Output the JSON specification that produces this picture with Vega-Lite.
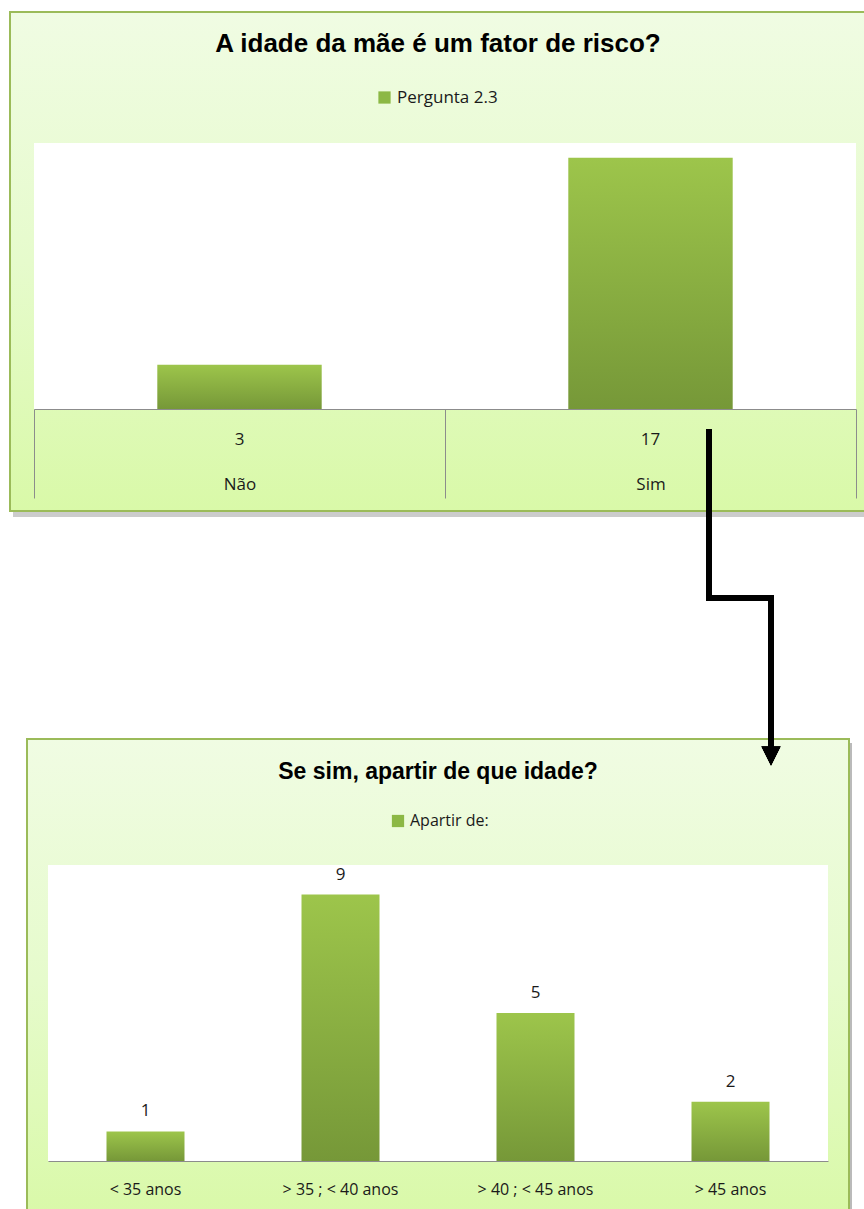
{
  "$schema": "https://vega.github.io/schema/vega-lite/v6.json",
  "padding": {"left": 9, "top": 11, "right": 0, "bottom": 0},
  "background": "white",
  "bounds": "flush",
  "center": true,
  "spacing": 228,
  "resolve": {"scale": {"color": "independent"}, "legend": {"color": "independent"}},
  "config": {
    "view": {"stroke": null},
    "axis": {"grid": false, "zindex": 1}
  },
  "vconcat": [
    {
      "width": 856,
      "height": 499,
      "title": {
        "text": "A idade da mãe é um fator de risco?",
        "anchor": "middle",
        "offset": -42,
        "dy": 25,
        "baseline": "alphabetic",
        "font": "Liberation Sans",
        "fontSize": 26,
        "fontWeight": "bold",
        "color": "#000000"
      },
      "data": {
        "values": [
          {"resposta": "Não", "n": 3, "serie": "Pergunta 2.3"},
          {"resposta": "Sim", "n": 17, "serie": "Pergunta 2.3"}
        ]
      },
      "layer": [
        {
          "mark": {"type": "rect", "fill": "#9a9a9a", "opacity": 0.3},
          "encoding": {
            "x": {"value": 3}, "x2": {"value": 860},
            "y": {"value": 4}, "y2": {"value": 505}
          }
        },
        {
          "mark": {
            "type": "rect",
            "stroke": "#9bbb59",
            "strokeWidth": 2,
            "fill": {
              "gradient": "linear", "x1": 0, "y1": 0, "x2": 0, "y2": 1,
              "stops": [
                {"offset": 0, "color": "#f0fce3"},
                {"offset": 0.5, "color": "#e6fbcc"},
                {"offset": 1, "color": "#d9f9a8"}
              ]
            }
          },
          "encoding": {
            "x": {"value": 0}, "x2": {"value": 856},
            "y": {"value": 0}, "y2": {"value": 499}
          }
        },
        {
          "mark": {"type": "rect", "fill": "#ffffff"},
          "encoding": {
            "x": {"value": 24}, "x2": {"value": 846},
            "y": {"value": 131}, "y2": {"value": 397}
          }
        },
        {
          "mark": {
            "type": "bar",
            "width": {"band": 0.4},
            "fill": {
              "gradient": "linear", "x1": 0, "y1": 0, "x2": 0, "y2": 1,
              "stops": [
                {"offset": 0, "color": "#9dc54b"},
                {"offset": 1, "color": "#769838"}
              ]
            }
          },
          "encoding": {
            "x": {
              "field": "resposta", "type": "nominal", "sort": ["Não", "Sim"],
              "scale": {"range": [24, 846], "paddingInner": 0, "paddingOuter": 0},
              "axis": {
                "orient": "bottom",
                "offset": -102,
                "title": null,
                "labelAngle": 0,
                "tickBand": "extent",
                "tickSize": 89,
                "tickColor": "#8c8c8c",
                "domainColor": "#8c8c8c",
                "labelPadding": -14,
                "labelBaseline": "middle",
                "labelFont": "Open Sans",
                "labelFontSize": 17,
                "labelColor": "#1a1a1a",
                "zindex": 1
              }
            },
            "y": {
              "field": "n", "type": "quantitative",
              "scale": {"domain": [0, 18], "range": [397, 131], "nice": false},
              "axis": null
            }
          }
        },
        {
          "mark": {"type": "text", "dy": 36, "baseline": "alphabetic", "font": "Open Sans", "fontSize": 17, "color": "#1a1a1a"},
          "encoding": {
            "x": {"field": "resposta", "type": "nominal", "sort": ["Não", "Sim"]},
            "y": {"datum": 0, "type": "quantitative"},
            "text": {"field": "n", "type": "quantitative"}
          }
        },
        {
          "mark": {"type": "square", "size": 0, "opacity": 1},
          "encoding": {
            "x": {"field": "resposta", "type": "nominal", "sort": ["Não", "Sim"]},
            "y": {"field": "n", "type": "quantitative"},
            "color": {
              "field": "serie", "type": "nominal",
              "scale": {"range": ["#8cb845"]},
              "legend": {
                "orient": "none",
                "legendX": 366,
                "legendY": 77,
                "title": null,
                "padding": 0,
                "symbolType": "square",
                "symbolSize": 150,
                "symbolOpacity": 1,
                "symbolStrokeWidth": 0,
                "labelFont": "Open Sans",
                "labelFontSize": 17,
                "labelColor": "#1a1a1a",
                "labelOffset": 4
              }
            }
          }
        },
        {
          "mark": {"type": "rule", "color": "#000000", "strokeWidth": 6, "strokeCap": "square"},
          "encoding": {"x": {"value": 699}, "y": {"value": 420}, "y2": {"value": 586}}
        },
        {
          "mark": {"type": "rule", "color": "#000000", "strokeWidth": 6, "strokeCap": "square"},
          "encoding": {"x": {"value": 699}, "x2": {"value": 761}, "y": {"value": 586}}
        },
        {
          "mark": {"type": "rule", "color": "#000000", "strokeWidth": 6},
          "encoding": {"x": {"value": 761}, "y": {"value": 586}, "y2": {"value": 736}}
        }
      ]
    },
    {
      "width": 822,
      "height": 480,
      "title": {
        "text": "Se sim, apartir de que idade?",
        "anchor": "middle",
        "offset": -42,
        "dy": 36,
        "baseline": "alphabetic",
        "font": "Liberation Sans",
        "fontSize": 23,
        "fontWeight": "bold",
        "color": "#000000"
      },
      "data": {
        "values": [
          {"idade": "< 35 anos", "n": 1, "serie": "Apartir de:"},
          {"idade": "> 35 ; < 40 anos", "n": 9, "serie": "Apartir de:"},
          {"idade": "> 40 ; < 45 anos", "n": 5, "serie": "Apartir de:"},
          {"idade": "> 45 anos", "n": 2, "serie": "Apartir de:"}
        ]
      },
      "layer": [
        {
          "mark": {"type": "rect", "fill": "#9a9a9a", "opacity": 0.25},
          "encoding": {
            "x": {"value": 3}, "x2": {"value": 825},
            "y": {"value": 4}, "y2": {"value": 486}
          }
        },
        {
          "mark": {
            "type": "rect",
            "stroke": "#9bbb59",
            "strokeWidth": 2,
            "fill": {
              "gradient": "linear", "x1": 0, "y1": 0, "x2": 0, "y2": 1,
              "stops": [
                {"offset": 0, "color": "#f0fce3"},
                {"offset": 0.5, "color": "#e6fbcc"},
                {"offset": 1, "color": "#d9f9a8"}
              ]
            }
          },
          "encoding": {
            "x": {"value": 0}, "x2": {"value": 822},
            "y": {"value": 0}, "y2": {"value": 480}
          }
        },
        {
          "mark": {"type": "rect", "fill": "#ffffff"},
          "encoding": {
            "x": {"value": 21}, "x2": {"value": 801},
            "y": {"value": 126}, "y2": {"value": 422}
          }
        },
        {
          "mark": {
            "type": "bar",
            "width": {"band": 0.4},
            "fill": {
              "gradient": "linear", "x1": 0, "y1": 0, "x2": 0, "y2": 1,
              "stops": [
                {"offset": 0, "color": "#9dc54b"},
                {"offset": 1, "color": "#769838"}
              ]
            }
          },
          "encoding": {
            "x": {
              "field": "idade", "type": "nominal",
              "sort": ["< 35 anos", "> 35 ; < 40 anos", "> 40 ; < 45 anos", "> 45 anos"],
              "scale": {"range": [21, 801], "paddingInner": 0, "paddingOuter": 0},
              "axis": {
                "orient": "bottom",
                "offset": -58,
                "title": null,
                "labelAngle": 0,
                "ticks": false,
                "domainColor": "#8c8c8c",
                "labelPadding": 28,
                "labelBaseline": "middle",
                "labelFont": "Open Sans",
                "labelFontSize": 16,
                "labelColor": "#1a1a1a",
                "zindex": 1
              }
            },
            "y": {
              "field": "n", "type": "quantitative",
              "scale": {"domain": [0, 10], "range": [422, 126], "nice": false},
              "axis": null
            }
          }
        },
        {
          "mark": {"type": "text", "dy": -15, "baseline": "alphabetic", "font": "Open Sans", "fontSize": 17, "color": "#1a1a1a"},
          "encoding": {
            "x": {"field": "idade", "type": "nominal", "sort": ["< 35 anos", "> 35 ; < 40 anos", "> 40 ; < 45 anos", "> 45 anos"]},
            "y": {"field": "n", "type": "quantitative"},
            "text": {"field": "n", "type": "quantitative"}
          }
        },
        {
          "mark": {"type": "square", "size": 0, "opacity": 1},
          "encoding": {
            "x": {"field": "idade", "type": "nominal", "sort": ["< 35 anos", "> 35 ; < 40 anos", "> 40 ; < 45 anos", "> 45 anos"]},
            "y": {"field": "n", "type": "quantitative"},
            "color": {
              "field": "serie", "type": "nominal",
              "scale": {"range": ["#8cb845"]},
              "legend": {
                "orient": "none",
                "legendX": 363,
                "legendY": 74,
                "title": null,
                "padding": 0,
                "symbolType": "square",
                "symbolSize": 150,
                "symbolOpacity": 1,
                "symbolStrokeWidth": 0,
                "labelFont": "Open Sans",
                "labelFontSize": 16,
                "labelColor": "#1a1a1a",
                "labelOffset": 4
              }
            }
          }
        },
        {
          "mark": {"type": "rule", "color": "#000000", "strokeWidth": 6},
          "encoding": {"x": {"value": 744}, "y": {"value": -12}, "y2": {"value": 10}}
        },
        {
          "mark": {"type": "point", "shape": "M-1,-1L1,-1L0,1Z", "filled": true, "color": "#000000", "opacity": 1, "size": 361},
          "encoding": {"x": {"value": 744}, "y": {"value": 17}}
        }
      ]
    }
  ]
}
